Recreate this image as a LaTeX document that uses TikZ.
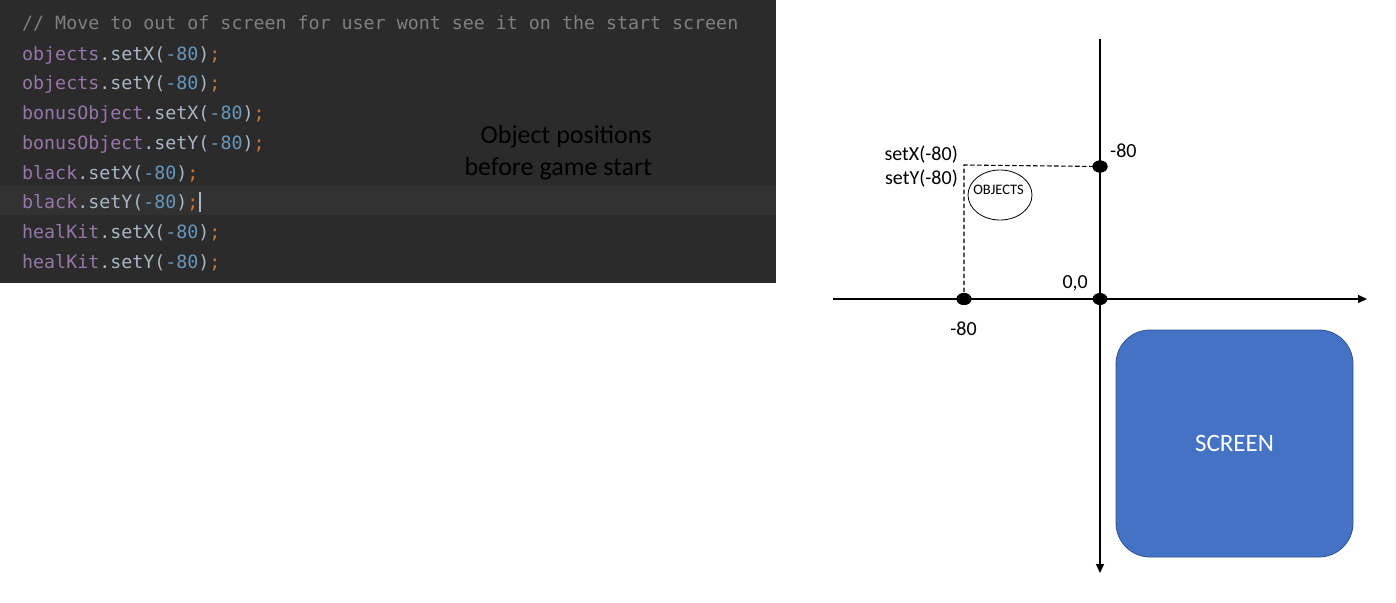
\documentclass[tikz,border=0pt]{standalone}
\usepackage{fontspec}
\usetikzlibrary{arrows.meta,shapes.geometric}
\newfontfamily\calib{Carlito}
\newfontfamily\monof{DejaVu Sans Mono}
\definecolor{codebg}{HTML}{2B2B2B}
\definecolor{caretrow}{HTML}{323232}
\definecolor{ccomment}{HTML}{808080}
\definecolor{cfield}{HTML}{9876AA}
\definecolor{cplain}{HTML}{A9B7C6}
\definecolor{cnum}{HTML}{6897BB}
\definecolor{csemi}{HTML}{CC7832}
\definecolor{screenblue}{HTML}{4472C4}
\definecolor{screenedge}{HTML}{2F528F}
\newcommand{\cl}[3]{\textcolor{cfield}{#1}\textcolor{cplain}{.#2(}\textcolor{cnum}{-80}\textcolor{cplain}{)}\textcolor{csemi}{;}}
\tikzset{
  codeline/.style={anchor=base west, inner sep=0pt, font=\monof\fontsize{18.3}{22}\selectfont},
  bigtext/.style={anchor=base east, inner sep=0pt, font=\calib\fontsize{26}{30}\selectfont, text=black},
  lbl/.style={inner sep=0pt, font=\calib\fontsize{20}{24}\selectfont},
  dot/.style={ellipse, fill=black, minimum width=15pt, minimum height=12pt, inner sep=0pt},
  axis/.style={line width=1.4pt, -{Triangle[length=9pt,width=8pt]}},
  guide/.style={line width=1.1pt, dash pattern=on 4.5pt off 2.5pt},
}
\begin{document}
\begin{tikzpicture}[x=1pt,y=-1pt]
\useasboundingbox (0,0) rectangle (1396,602);
% code block
\fill[codebg] (0,0) rectangle (776,283);
\fill[caretrow] (0,186) rectangle (776,215);
\node[codeline, text=ccomment] (c0) at (22,30) {// Move to out of screen for user wont see it on the start screen};
\node[codeline] (c1) at (22,60) {\cl{objects}{setX}{}};
\node[codeline] (c2) at (22,89.7) {\cl{objects}{setY}{}};
\node[codeline] (c3) at (22,119.5) {\cl{bonusObject}{setX}{}};
\node[codeline] (c4) at (22,149.2) {\cl{bonusObject}{setY}{}};
\node[codeline] (c5) at (22,179) {\cl{black}{setX}{}};
\node[codeline] (c6) at (22,208.7) {\cl{black}{setY}{}};
\node[codeline] (c7) at (22,238.5) {\cl{healKit}{setX}{}};
\node[codeline] (c8) at (22,268.2) {\cl{healKit}{setY}{}};
\draw[cplain, line width=1.2pt] (200,192) -- (200,212);
\node[bigtext] (t1) at (652,143) {Object positions};
\node[bigtext] (t2) at (652,175) {before game start};
% axes
\coordinate (xl) at (833,299);
\coordinate (xr) at (1367,299);
\coordinate (yt) at (1100,39);
\coordinate (yb) at (1100,573);
\draw[axis] (xl) -- (xr);
\draw[axis] (yt) -- (yb);
% screen
\node[draw=screenedge, fill=screenblue, line width=0.8pt, rounded corners=34pt,
      minimum width=237pt, minimum height=227pt, inner sep=0pt,
      text=white, font=\calib\fontsize{25}{30}\selectfont] (screen) at (1234.5,443.5) {SCREEN};
% dashed guides
\coordinate (corner) at (964,165);
\node[dot] (dy) at (1100,166.5) {};
\node[dot] (dx) at (964,299) {};
\node[dot] (d0) at (1100,299) {};
\draw[guide] (dx.center) -- (corner) -- (dy.center);
\node[dot] at (1100,166.5) {};
\node[dot] at (964,299) {};
% objects ellipse
\node[ellipse, draw, line width=0.8pt, minimum width=64pt, minimum height=50pt, inner sep=0pt] (obj) at (1000,195) {};
\node[inner sep=0pt, anchor=base, font=\calib\fontsize{14.5}{16}\selectfont] (objt) at (998.5,194) {OBJECTS};
% labels
\node[lbl, anchor=base east] (sx) at (958,160) {setX(-80)};
\node[lbl, anchor=base east] (sy) at (958,184) {setY(-80)};
\node[lbl, anchor=base west] (ly) at (1110,157) {-80};
\node[lbl, anchor=base east] (l0) at (1088,288) {0,0};
\node[lbl, anchor=base] (lx) at (963.5,335) {-80};
\end{tikzpicture}
\end{document}
